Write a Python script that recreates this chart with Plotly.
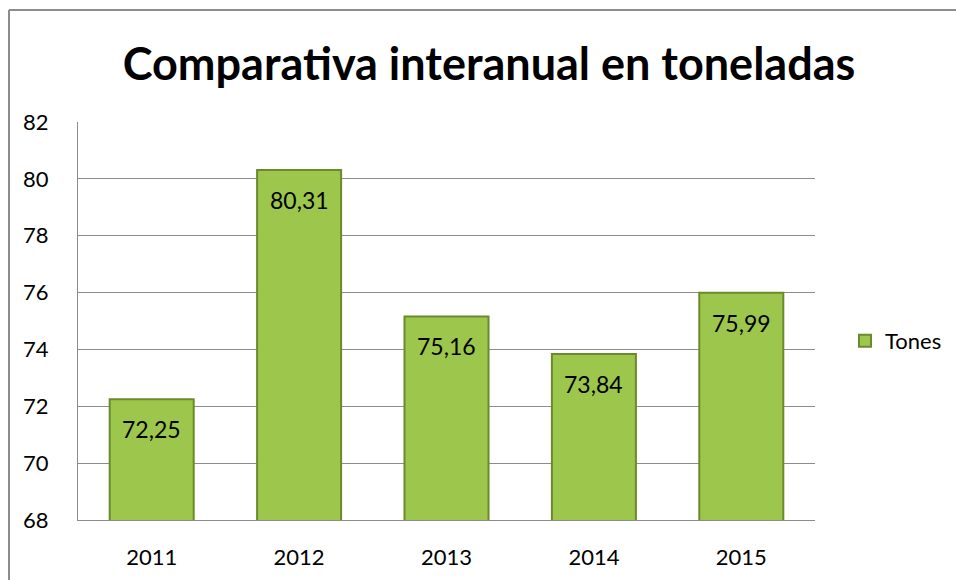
import plotly.graph_objects as go

years = ["2011", "2012", "2013", "2014", "2015"]
tones = [72.25, 80.31, 75.16, 73.84, 75.99]
y_ticks = [68, 70, 72, 74, 76, 78, 80, 82]
y_min, y_max = 68, 82

labels = [f"{v:.2f}".replace(".", ",") for v in tones]

W, H = 956, 580
L, R, T, B = 78, 141, 122, 60
FONT = "Lato"

fig = go.Figure()
fig.add_trace(go.Bar(
    x=years, y=tones, name="Tones",
    marker=dict(color="#9dc64c", line=dict(color="#6b8a2c", width=2)),
))

# data labels (category index used as position on the category axis)
for i, (v, t) in enumerate(zip(tones, labels)):
    fig.add_annotation(x=i, y=v, xref="x", yref="y", text=t, showarrow=False,
                       xanchor="center", yanchor="top", yshift=-14,
                       font=dict(family=FONT, size=23, color="#000000"))

pw = W - L - R
ph = H - T - B
# chart area border: only top and left edges are visible in the reference
border_x0 = (9 - L) / pw
border_x1 = (W + 50 - L) / pw
border_ytop = (H - B - 10) / ph
border_ybot = (H - B - (H + 50)) / ph
fig.add_shape(type="line", xref="paper", yref="paper",
              x0=border_x0, x1=border_x1, y0=border_ytop, y1=border_ytop,
              line=dict(color="#8c8c8c", width=2), layer="below")
fig.add_shape(type="line", xref="paper", yref="paper",
              x0=border_x0, x1=border_x0, y0=border_ytop, y1=border_ybot,
              line=dict(color="#8c8c8c", width=2), layer="below")

fig.update_layout(
    width=W, height=H,
    margin=dict(l=L, r=R, t=T, b=B, autoexpand=False),
    paper_bgcolor="white", plot_bgcolor="white",
    title=dict(text="<b>Comparativa interanual en toneladas</b>", x=489 / W, xanchor="center",
               y=1 - 64 / H, yanchor="middle", font=dict(family=FONT, size=45, color="#000000")),
    showlegend=True,
    legend=dict(x=(845 - L) / pw, xanchor="left", y=(H - B - 341) / ph, yanchor="middle",
                font=dict(family=FONT, size=22, color="#000000"), bgcolor="rgba(0,0,0,0)"),
    bargap=0.43,
    font=dict(family=FONT, color="#000000"),
)
fig.update_yaxes(range=[y_min, y_max], tickvals=y_ticks, ticktext=[str(v) for v in y_ticks],
                 showgrid=True, gridcolor="#8c8c8c", gridwidth=1,
                 showline=True, linecolor="#8c8c8c", linewidth=1,
                 ticks="", ticklabelstandoff=24, zeroline=False,
                 tickfont=dict(family=FONT, size=22, color="#000000"))
fig.update_xaxes(type="category", categoryorder="array", categoryarray=years,
                 range=[-0.5, len(years) - 0.5],
                 showgrid=False, showline=True, linecolor="#8c8c8c", linewidth=1,
                 ticks="", ticklabelstandoff=18, tickfont=dict(family=FONT, size=22, color="#000000"))

fig.write_html("out.html")
